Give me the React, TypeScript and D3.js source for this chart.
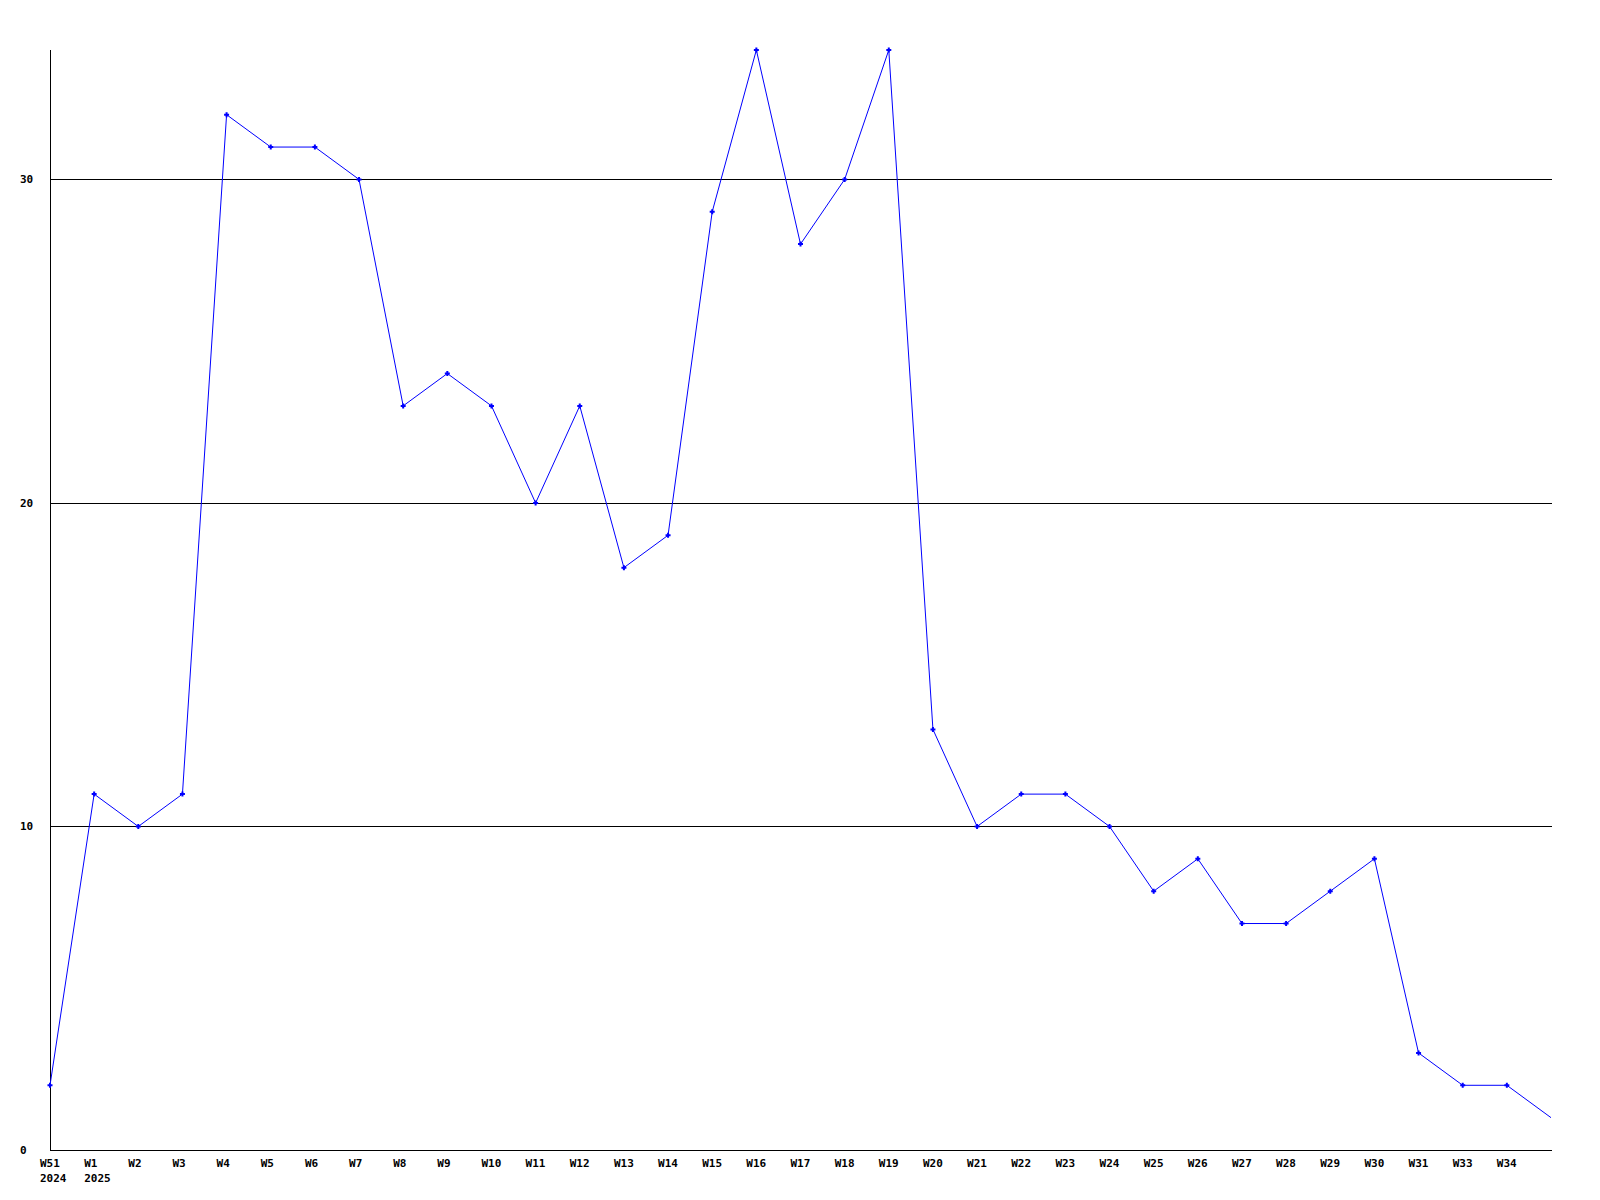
import React from "react";
import * as d3 from "d3";

const weeks = ["W51", "W1", "W2", "W3", "W4", "W5", "W6", "W7", "W8", "W9", "W10", "W11", "W12", "W13", "W14", "W15", "W16", "W17", "W18", "W19", "W20", "W21", "W22", "W23", "W24", "W25", "W26", "W27", "W28", "W29", "W30", "W31", "W33", "W34", ""];
const years = ["2024", "2025"];
const values = [2, 11, 10, 11, 32, 31, 31, 30, 23, 24, 23, 20, 23, 18, 19, 29, 34, 28, 30, 34, 13, 10, 11, 11, 10, 8, 9, 7, 7, 8, 9, 3, 2, 2, 1];
const yTicks = [0, 10, 20, 30];

export default function App() {
  const left = 50, right = 1551, top = 50, bottom = 1150;
  const x = d3.scaleLinear().domain([0, weeks.length - 1]).range([left, right]);
  const y = d3.scaleLinear().domain([0, 34]).range([bottom, top]);
  const line = d3.line<number>().x((_, i) => x(i)).y((d) => y(d));
  const font = "'DejaVu Sans Mono', monospace";
  return (
    <svg width={1600} height={1200} style={{ position: "absolute", left: 0, top: 0, background: "#fff" }}>
      <rect width={1600} height={1200} fill="#fff" />
      {yTicks.filter((t) => t > 0).map((t) => (
        <line key={t} x1={left} x2={right + 1} y1={Math.round(y(t)) + 0.5} y2={Math.round(y(t)) + 0.5} stroke="#000" strokeWidth={1} shapeRendering="crispEdges" />
      ))}
      <line x1={left + 0.5} x2={left + 0.5} y1={top} y2={bottom} stroke="#000" strokeWidth={1} shapeRendering="crispEdges" />
      <line x1={left} x2={right + 1} y1={bottom + 0.5} y2={bottom + 0.5} stroke="#000" strokeWidth={1} shapeRendering="crispEdges" />
      {yTicks.map((t) => (
        <text key={t} x={20} y={y(t) + 4} fontFamily={font} fontWeight="bold" fontSize={11} fill="#000">{t}</text>
      ))}
      {weeks.map((w, i) => (
        <text key={i} x={x(i) - 10} y={1167} fontFamily={font} fontWeight="bold" fontSize={11} fill="#000">{w}</text>
      ))}
      {years.map((yr, i) => (
        <text key={yr} x={x(i) - 10} y={1182} fontFamily={font} fontWeight="bold" fontSize={11} fill="#000">{yr}</text>
      ))}
      <path d={line(values) || ""} fill="none" stroke="#0000ff" strokeWidth={1} />
      {values.slice(0, values.length - 1).map((v, i) => (
        <path key={i} d={`M${x(i) - 2.5},${y(v)}h5M${x(i)},${y(v) - 2.5}v5`} stroke="#0000ff" strokeWidth={2} />
      ))}
    </svg>
  );
}
